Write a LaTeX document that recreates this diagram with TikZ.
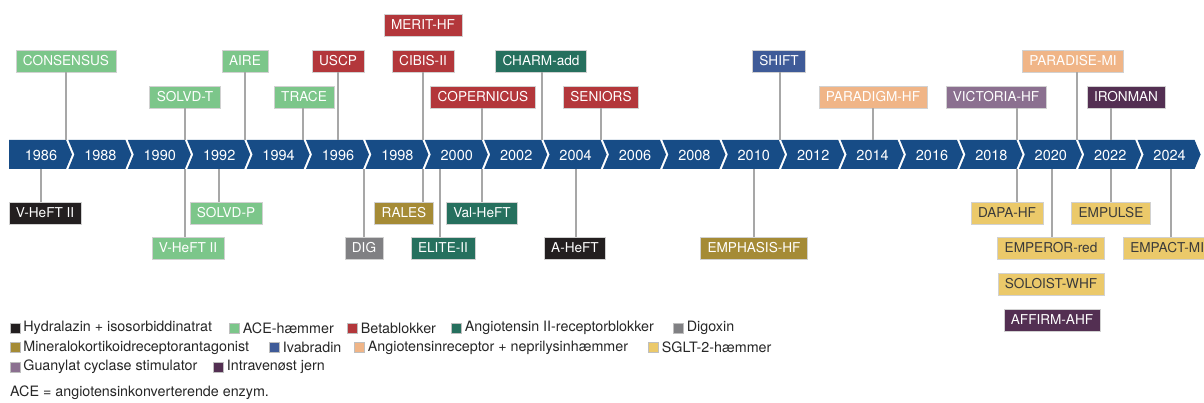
\documentclass[tikz,border=0pt]{standalone}
\usepackage{fontspec}
\setsansfont{TeX Gyre Heros}
\usetikzlibrary{positioning}

\definecolor{timeBlue}{HTML}{174C86}
\definecolor{hydBlack}{HTML}{231F20}
\definecolor{aceGreen}{HTML}{7CC68A}
\definecolor{betaRed}{HTML}{B3373B}
\definecolor{arbTeal}{HTML}{26705E}
\definecolor{digGray}{HTML}{808083}
\definecolor{mraGold}{HTML}{A58B36}
\definecolor{ivaBlue}{HTML}{3F5B98}
\definecolor{arniPeach}{HTML}{F0B587}
\definecolor{sgltYellow}{HTML}{EBC96A}
\definecolor{sgcMauve}{HTML}{8B7090}
\definecolor{ironPurple}{HTML}{532F52}
\definecolor{linkGray}{HTML}{A7A7A7}
\definecolor{darkText}{HTML}{3A3A3A}

\begin{document}
\begin{tikzpicture}[x = 1pt, y = -1pt, font=\sffamily]
\tikzstyle{trialStyle}=[shape = rectangle, minimum height = 22pt, inner xsep = 7pt, inner ysep = 0pt, text = white, draw = black!18, line width = 0.6pt, font = \sffamily\fontsize{13.6}{15}\selectfont]
\tikzstyle{yearStyle}=[inner sep = 0pt, text = white, font = \sffamily\fontsize{14.5}{16}\selectfont]
\tikzstyle{linkStyle}=[draw = linkGray, line width = 1.2pt]
\tikzstyle{legendBoxStyle}=[shape = rectangle, minimum size = 10pt, inner sep = 0pt, draw = black!25, line width = 0.4pt]
\tikzstyle{legendTextStyle}=[inner sep = 0pt, text = black!85, font = \sffamily\fontsize{14.3}{16}\selectfont]
\useasboundingbox (0,0) rectangle (1204,403);
\clip (0,0) rectangle (1204,403);
% timeline
\foreach \yr [count = \i from 0] in {1986,1988,...,2024} {
  \pgfmathsetmacro{\c}{41 + 59.4*\i}
  \pgfmathsetmacro{\n}{ifthenelse(\i == 0, \c - 32, \c - 26)}
  \fill[timeBlue] (\c - 32,140) -- (\c + 25,140) -- (\c + 31,154.5) -- (\c + 25,169) -- (\c - 32,169) -- (\n,154.5) -- cycle;
  \node[yearStyle] (y\yr) at (\c,155) {\yr};
}
\coordinate (tlTop) at (0,140);
\coordinate (tlBot) at (0,169);
% trials above the timeline
\node[trialStyle, fill = aceGreen] (consensus) at (66,61) {CONSENSUS};
\node[trialStyle, fill = aceGreen] (solvdT) at (185,97) {SOLVD-T};
\node[trialStyle, fill = aceGreen] (aire) at (245,61) {AIRE};
\node[trialStyle, fill = aceGreen] (trace) at (304,97) {TRACE};
\node[trialStyle, fill = betaRed] (uscp) at (338,61) {USCP};
\node[trialStyle, fill = betaRed] (merit) at (423,25) {MERIT-HF};
\node[trialStyle, fill = betaRed] (cibis) at (423,61) {CIBIS-II};
\node[trialStyle, fill = betaRed] (copernicus) at (483,97) {COPERNICUS};
\node[trialStyle, fill = arbTeal] (charm) at (541,61) {CHARM-add};
\node[trialStyle, fill = betaRed] (seniors) at (601,97) {SENIORS};
\node[trialStyle, fill = ivaBlue] (shift) at (779,61) {SHIFT};
\node[trialStyle, fill = arniPeach] (paradigm) at (873,97) {PARADIGM-HF};
\node[trialStyle, fill = sgcMauve] (victoria) at (996,97) {VICTORIA-HF};
\node[trialStyle, fill = arniPeach] (paradise) at (1073,61) {PARADISE-MI};
\node[trialStyle, fill = ironPurple] (ironman) at (1126,97) {IRONMAN};
% trials below the timeline
\node[trialStyle, fill = hydBlack] (vheftB) at (45,213) {V-HeFT II};
\node[trialStyle, fill = aceGreen] (vheftG) at (188,248) {V-HeFT II};
\node[trialStyle, fill = aceGreen] (solvdP) at (226,213) {SOLVD-P};
\node[trialStyle, fill = digGray] (dig) at (364,248) {DIG};
\node[trialStyle, fill = mraGold] (rales) at (404,213) {RALES};
\node[trialStyle, fill = arbTeal] (elite) at (443,248) {ELITE-II};
\node[trialStyle, fill = arbTeal] (valheft) at (482,213) {Val-HeFT};
\node[trialStyle, fill = hydBlack] (aheft) at (575,248) {A-HeFT};
\node[trialStyle, fill = mraGold] (emphasis) at (754,248) {EMPHASIS-HF};
\node[trialStyle, fill = sgltYellow, text = darkText] (dapa) at (1007,213) {DAPA-HF};
\node[trialStyle, fill = sgltYellow, text = darkText] (emperor) at (1051,248) {EMPEROR-red};
\node[trialStyle, fill = sgltYellow, text = darkText] (soloist) at (1051,284) {SOLOIST-WHF};
\node[trialStyle, fill = ironPurple] (affirm) at (1052,320) {AFFIRM-AHF};
\node[trialStyle, fill = sgltYellow, text = darkText] (empulse) at (1111,213) {EMPULSE};
\node[trialStyle, fill = sgltYellow, text = darkText, anchor = west] (empact) at (1123,248) {EMPACT-MI};
% connectors
\draw[linkStyle] (consensus.south) -- (consensus.south |- tlTop);
\draw[linkStyle] (solvdT.south) -- (solvdT.south |- tlTop);
\draw[linkStyle] (aire.south) -- (aire.south |- tlTop);
\draw[linkStyle] ([xshift = -1pt]trace.south) -- ([xshift = -1pt]trace.south |- tlTop);
\draw[linkStyle] (uscp.south) -- (uscp.south |- tlTop);
\draw[linkStyle] (cibis.south) -- (cibis.south |- tlTop);
\draw[linkStyle] ([xshift = -1pt]copernicus.south) -- ([xshift = -1pt]copernicus.south |- tlTop);
\draw[linkStyle] ([xshift = 1pt]charm.south) -- ([xshift = 1pt]charm.south |- tlTop);
\draw[linkStyle] (seniors.south) -- (seniors.south |- tlTop);
\draw[linkStyle] ([xshift = 1pt]shift.south) -- ([xshift = 1pt]shift.south |- tlTop);
\draw[linkStyle] (paradigm.south) -- (paradigm.south |- tlTop);
\draw[linkStyle] ([xshift = 21pt]victoria.south) -- ([xshift = 21pt]victoria.south |- tlTop);
\draw[linkStyle] ([xshift = 4pt]paradise.south) -- ([xshift = 4pt]paradise.south |- tlTop);
\draw[linkStyle] ([xshift = -15pt]ironman.south) -- ([xshift = -15pt]ironman.south |- tlTop);
\draw[linkStyle] ([xshift = -4pt]vheftB.north) -- ([xshift = -4pt]vheftB.north |- tlBot);
\draw[linkStyle] ([xshift = -3pt]vheftG.north) -- ([xshift = -3pt]vheftG.north |- tlBot);
\draw[linkStyle] ([xshift = -7pt]solvdP.north) -- ([xshift = -7pt]solvdP.north |- tlBot);
\draw[linkStyle] (dig.north) -- (dig.north |- tlBot);
\draw[linkStyle] ([xshift = 19pt]rales.north) -- ([xshift = 19pt]rales.north |- tlBot);
\draw[linkStyle] ([xshift = -3pt]elite.north) -- ([xshift = -3pt]elite.north |- tlBot);
\draw[linkStyle] (valheft.north) -- (valheft.north |- tlBot);
\draw[linkStyle] ([xshift = 1pt]aheft.north) -- ([xshift = 1pt]aheft.north |- tlBot);
\draw[linkStyle] (emphasis.north) -- (emphasis.north |- tlBot);
\draw[linkStyle] ([xshift = 10pt]dapa.north) -- ([xshift = 10pt]dapa.north |- tlBot);
\draw[linkStyle] ([xshift = 1pt]emperor.north) -- ([xshift = 1pt]emperor.north |- tlBot);
\draw[linkStyle] (empulse.north) -- (empulse.north |- tlBot);
\draw[linkStyle] ([xshift = 48pt]empact.north west) -- ([xshift = 48pt]empact.north west |- tlBot);
% legend
\node[legendBoxStyle, fill = hydBlack] (kHyd) at (15,328) {};
\node[legendTextStyle, right = 3pt of kHyd] (tHyd) {Hydralazin + isosorbiddinatrat};
\node[legendBoxStyle, fill = aceGreen] (kAce) at (234.5,328) {};
\node[legendTextStyle, right = 3pt of kAce] (tAce) {ACE-hæmmer};
\node[legendBoxStyle, fill = betaRed] (kBeta) at (352.5,328) {};
\node[legendTextStyle, right = 3pt of kBeta] (tBeta) {Betablokker};
\node[legendBoxStyle, fill = arbTeal] (kArb) at (456.5,328) {};
\node[legendTextStyle, right = 3pt of kArb] (tArb) {Angiotensin II-receptorblokker};
\node[legendBoxStyle, fill = digGray] (kDig) at (678.5,328) {};
\node[legendTextStyle, right = 3pt of kDig] (tDig) {Digoxin};
\node[legendBoxStyle, fill = mraGold] (kMra) at (15,347.5) {};
\node[legendTextStyle, right = 3pt of kMra] (tMra) {Mineralokortikoidreceptorantagonist};
\node[legendBoxStyle, fill = ivaBlue] (kIva) at (274.5,347.5) {};
\node[legendTextStyle, right = 3pt of kIva] (tIva) {Ivabradin};
\node[legendBoxStyle, fill = arniPeach] (kArni) at (359.5,347.5) {};
\node[legendTextStyle, right = 3pt of kArni] (tArni) {Angiotensinreceptor + neprilysinhæmmer};
\node[legendBoxStyle, fill = sgltYellow] (kSglt) at (653.5,347.5) {};
\node[legendTextStyle, right = 3pt of kSglt] (tSglt) {SGLT-2-hæmmer};
\node[legendBoxStyle, fill = sgcMauve] (kSgc) at (15,367) {};
\node[legendTextStyle, right = 3pt of kSgc] (tSgc) {Guanylat cyclase stimulator};
\node[legendBoxStyle, fill = ironPurple] (kIron) at (218.5,367) {};
\node[legendTextStyle, right = 3pt of kIron] (tIron) {Intravenøst jern};
\node[legendTextStyle, anchor = west] (note) at (10,393) {ACE = angiotensinkonverterende enzym.};
\end{tikzpicture}
\end{document}
